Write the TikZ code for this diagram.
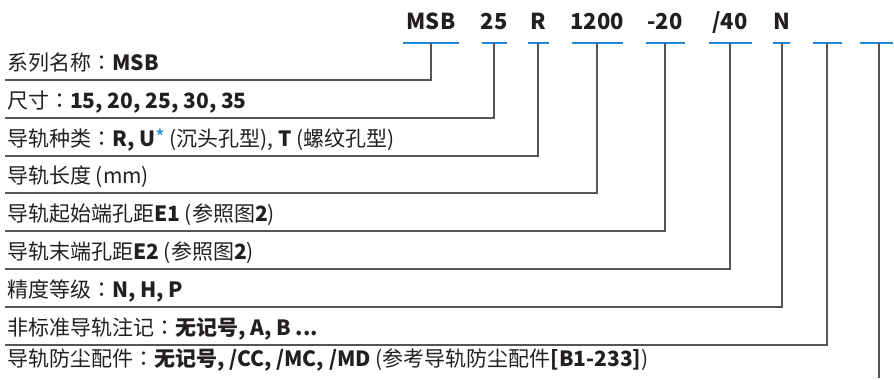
\documentclass[tikz,border=0pt]{standalone}
\usepackage{fontspec}
\setmainfont{Noto Sans CJK SC}
\newfontfamily\jpfont{Noto Sans CJK JP}
\newcommand{\colonmark}{{\jpfont ：}}
\usetikzlibrary{positioning}
\definecolor{codeblue}{RGB}{30,136,210}
\definecolor{linegray}{RGB}{85,85,85}
\definecolor{textdark}{RGB}{35,31,32}

\begin{document}
\begin{tikzpicture}[x=1pt, y=-1pt,
	code/.style={font=\fontsize{22}{22}\selectfont\bfseries, text=textdark, anchor=base, inner sep=0pt},
	item/.style={font=\fontsize{21}{21}\selectfont, text=textdark, anchor=base west, inner sep=0pt},
	bar/.style={codeblue, line width=2pt},
	lead/.style={linegray, line width=1.1pt}]
	
	\useasboundingbox (0,0) rectangle (894,380);
	
	% Codigo del modelo
	\node[code] (msb) at (431,29) {MSB};
	\node[code] (size) at (494,29) {25};
	\node[code] (type) at (538,29) {R};
	\node[code] (len) at (597,29) {1200};
	\node[code] (eone) at (665,29) {-20};
	\node[code] (etwo) at (730,29) {/40};
	\node[code] (grade) at (782,29) {N};
	
	% Barras azules
	\draw[bar] (403,43) -- (459,43);
	\draw[bar] (482,43) -- (507,43);
	\draw[bar] (528,43) -- (549,43);
	\draw[bar] (572,43) -- (623,43);
	\draw[bar] (646,43) -- (685,43);
	\draw[bar] (709,43) -- (752,43);
	\draw[bar] (773,43) -- (790,43);
	\draw[bar] (813,43) -- (842,43);
	\draw[bar] (860,43) -- (893,43);
	
	% Puntos de partida
	\coordinate (msb-b) at (431,43);
	\coordinate (size-b) at (494,43);
	\coordinate (type-b) at (538,43);
	\coordinate (len-b) at (597,43);
	\coordinate (eone-b) at (665,43);
	\coordinate (etwo-b) at (730,43);
	\coordinate (grade-b) at (782,43);
	\coordinate (mark-b) at (827,43);
	\coordinate (seal-b) at (879,43);
	
	% Etiquetas
	\node[item] (l-msb) at (7,70) {系列名称\colonmark\textbf{MSB}};
	\node[item] (l-size) at (7,108) {尺寸\colonmark\textbf{15, 20, 25, 30, 35}};
	\node[item] (l-type) at (7,146) {导轨种类\colonmark\textbf{R, U}\textcolor{codeblue}{\raisebox{1pt}{*}} (沉头孔型),\ \textbf{T} (螺纹孔型)};
	\node[item] (l-len) at (7,183) {导轨长度 (mm)};
	\node[item] (l-eone) at (7,221) {导轨起始端孔距\textbf{E1} (参照图\textbf{2})};
	\node[item] (l-etwo) at (7,259) {导轨末端孔距\textbf{E2} (参照图\textbf{2})};
	\node[item] (l-grade) at (7,297) {精度等级\colonmark\textbf{N, H, P}};
	\node[item] (l-mark) at (7,335) {非标准导轨注记\colonmark\textbf{无记号, A, B ...}};
	\node[item] (l-seal) at (7,366) {导轨防尘配件\colonmark\textbf{无记号, /CC, /MC, /MD} (参考导轨防尘配件\textbf{[B1-233]})};
	
	% Extremos de las lineas
	\coordinate (msb-e) at (5,80);
	\coordinate (size-e) at (5,118);
	\coordinate (type-e) at (5,156);
	\coordinate (len-e) at (5,193);
	\coordinate (eone-e) at (5,231);
	\coordinate (etwo-e) at (5,269);
	\coordinate (grade-e) at (5,307);
	\coordinate (mark-e) at (5,345);
	\coordinate (seal-e) at (879,378);
	
	% Lineas guia
	\draw[lead] (msb-b) |- (msb-e);
	\draw[lead] (size-b) |- (size-e);
	\draw[lead] (type-b) |- (type-e);
	\draw[lead] (len-b) |- (len-e);
	\draw[lead] (eone-b) |- (eone-e);
	\draw[lead] (etwo-b) |- (etwo-e);
	\draw[lead] (grade-b) |- (grade-e);
	\draw[lead] (mark-b) |- (mark-e);
	\draw[lead] (seal-b) -- (seal-e);
	
\end{tikzpicture}
\end{document}
